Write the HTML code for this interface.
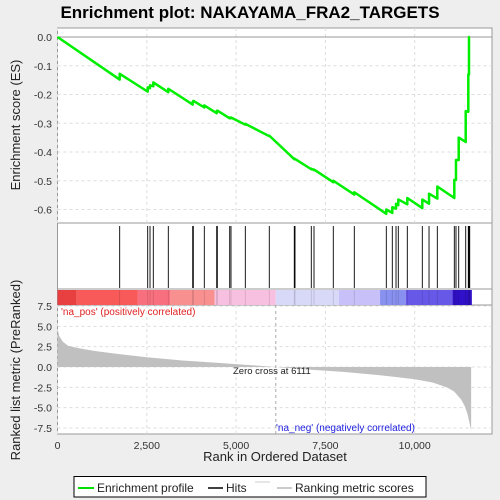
<!DOCTYPE html>
<html><head><meta charset="utf-8"><style>
body{margin:0;background:#eeeeee;font-family:"Liberation Sans",sans-serif;}
svg{display:block}
text{font-family:"Liberation Sans",sans-serif}
</style></head><body>
<svg id="c" width="500" height="500" viewBox="0 0 500 500" xmlns="http://www.w3.org/2000/svg">
<rect x="0" y="0" width="500" height="500" fill="#eeeeee"/>
<text x="250" y="18" text-anchor="middle" font-size="17" font-weight="bold" fill="#000">Enrichment plot: NAKAYAMA_FRA2_TARGETS</text>
<rect x="57.5" y="28" width="434.5" height="195" fill="#fff" stroke="#999"/>
<rect x="57.5" y="223" width="434.5" height="66" fill="#fff" stroke="#999"/>
<rect x="57.5" y="289" width="434.5" height="16" fill="#fff" stroke="#999"/>
<rect x="57.5" y="305" width="434.5" height="129" fill="#fff" stroke="#999"/>
<g id="g"></g>
<text x="20" y="125" transform="rotate(-90 20 125)" text-anchor="middle" font-size="13" fill="#222">Enrichment score (ES)</text>
<text x="20" y="370" transform="rotate(-90 20 370)" text-anchor="middle" font-size="13" fill="#222">Ranked list metric (PreRanked)</text>
<text x="275" y="461" text-anchor="middle" font-size="13" fill="#222">Rank in Ordered Dataset</text>
<text x="61" y="315" font-size="10" fill="#e02020">'na_pos' (positively correlated)</text>
<text x="276" y="431" font-size="10" fill="#2020e0">'na_neg' (negatively correlated)</text>
<text x="233" y="374" font-size="9.5" fill="#222">Zero cross at 6111</text>
<g>
<rect x="74" y="476.5" width="352" height="20.5" fill="#fff" stroke="#000"/>
<line x1="78" y1="488" x2="94" y2="488" stroke="#00e000" stroke-width="2"/>
<text x="97" y="492" font-size="12" fill="#222">Enrichment profile</text>
<line x1="208" y1="488" x2="223" y2="488" stroke="#000" stroke-width="1.5"/>
<text x="226" y="492" font-size="12" fill="#222">Hits</text>
<line x1="255" y1="482" x2="270" y2="482" stroke="#ccc"/>
<line x1="277" y1="488" x2="292" y2="488" stroke="#bbb" stroke-width="1.5"/>
<text x="295" y="492" font-size="12" fill="#222">Ranking metric scores</text>
</g>
</svg>
<script>
const hitRanks=[1741,2525,2590,2682,3102,3785,3802,4110,4457,4474,4821,4857,5258,5929,6629,6649,7105,7181,7721,8309,9205,9373,9477,9541,9793,10213,10401,10633,11109,11156,11232,11428,11501,11520,11540];
const esBefore=[-0.148,-0.19,-0.178,-0.171,-0.192,-0.235,-0.226,-0.245,-0.265,-0.259,-0.283,-0.282,-0.305,-0.345,-0.425,-0.425,-0.46,-0.463,-0.505,-0.548,-0.615,-0.612,-0.597,-0.585,-0.582,-0.595,-0.58,-0.562,-0.56,-0.497,-0.428,-0.365,-0.26,-0.13,0.0];
const esAfter=[-0.128,-0.175,-0.168,-0.158,-0.18,-0.225,-0.222,-0.238,-0.258,-0.256,-0.28,-0.28,-0.302,-0.343,-0.423,-0.424,-0.458,-0.461,-0.5,-0.54,-0.6,-0.592,-0.58,-0.565,-0.56,-0.565,-0.545,-0.52,-0.497,-0.428,-0.35,-0.258,-0.13,0.0,0.0];
const metricRanks=[0,50,150,300,600,1000,1500,2500,3500,4500,5500,6111,7000,8000,9000,9500,10000,10500,10900,11100,11300,11400,11480,11540,11580];
const metricVals=[4.7,3.8,3.1,2.6,2.3,2.0,1.7,1.2,0.8,0.5,0.2,0,-0.3,-0.6,-1.0,-1.25,-1.5,-1.9,-2.5,-3.0,-4.0,-4.8,-5.8,-7.0,-7.8];
const esTicks=[0.0,-0.1,-0.2,-0.3,-0.4,-0.5,-0.6];
const metricTicks=[7.5,5.0,2.5,0.0,-2.5,-5.0,-7.5];
const xTicks=[0,2500,5000,7500,10000];
const xTickLabels=["0","2,500","5,000","7,500","10,000"];
const colorStops=[0,540,2250,3150,4400,6111,7880,9030,9750,11060,11600];
const colorFills=["#e84040","#f85a5a","#f87080","#f89090","#f8c0e0","#d8d8f8","#c8c0f8","#8890f0","#6858e8","#3010c8"];
const NS="http://www.w3.org/2000/svg";
const X=r=>57.5+r*0.03572;
const YE=v=>37-v*287.5;
const YM=v=>367-v*8.13;
const g=document.getElementById('g');
function mk(t,a){const e=document.createElementNS(NS,t);for(const k in a)e.setAttribute(k,a[k]);g.appendChild(e);return e;}
// grid
xTicks.forEach((t,i)=>{
 [[28,223],[305,434]].forEach(p=>{const l=mk('line',{x1:X(t),x2:X(t),y1:p[0],y2:p[1],stroke:'#ddd','stroke-dasharray':'3,3'});
 
 });
 const tx=mk('text',{x:X(t),y:449,'text-anchor':'middle','font-size':'10.5',fill:'#333'});tx.textContent=xTickLabels[i];
 
 
});
esTicks.forEach(t=>{
 const l=mk('line',{x1:57.5,x2:492,y1:YE(t),y2:YE(t),stroke:t===0?'#999':'#ddd','stroke-dasharray':t===0?'':'3,3'});
 
 
 const tx=mk('text',{x:52,y:YE(t)+4,'text-anchor':'end','font-size':'10.5',fill:'#333'});tx.textContent=t.toFixed(1);
 
 
});
metricTicks.forEach(t=>{
 const l=mk('line',{x1:57.5,x2:492,y1:YM(t),y2:YM(t),stroke:'#ddd','stroke-dasharray':'3,3'});
 
 
 const tx=mk('text',{x:52,y:YM(t)+4,'text-anchor':'end','font-size':'10.5',fill:'#333'});tx.textContent=t.toFixed(1);
 
 
});
const zl=mk('line',{x1:X(6111),x2:X(6111),y1:305,y2:434,stroke:'#aaa','stroke-dasharray':'3,3'});


// metric area
let d='M'+X(metricRanks[0])+','+YM(0);
metricRanks.forEach((r,i)=>{d+=' L'+X(r)+','+YM(metricVals[i]);});
d+=' L'+X(metricRanks[metricRanks.length-1])+','+YM(0)+' Z';
const ar=mk('path',{d:d,fill:'#c0c0c0'});


// color bar
colorFills.forEach((c,i)=>{const r=mk('rect',{x:X(colorStops[i]),y:290,width:X(colorStops[i+1])-X(colorStops[i]),height:15,fill:c});
 
 });
// hits
hitRanks.forEach(r=>{const l=mk('line',{x1:X(r),x2:X(r),y1:226,y2:288,stroke:'#000','stroke-width':0.9});
 
 
 const c=mk('line',{x1:X(r),x2:X(r),y1:290,y2:305,stroke:'rgba(0,0,0,0.15)','stroke-width':0.8});
 
 });
// ES line
let p='M'+X(0)+','+YE(0);
hitRanks.forEach((r,i)=>{p+=' L'+X(r)+','+YE(esBefore[i])+' L'+X(r)+','+YE(esAfter[i]);});
const es=mk('path',{d:p,fill:'none',stroke:'#00ee00','stroke-width':2.5,'stroke-linejoin':'round'});


</script>
</body></html>
